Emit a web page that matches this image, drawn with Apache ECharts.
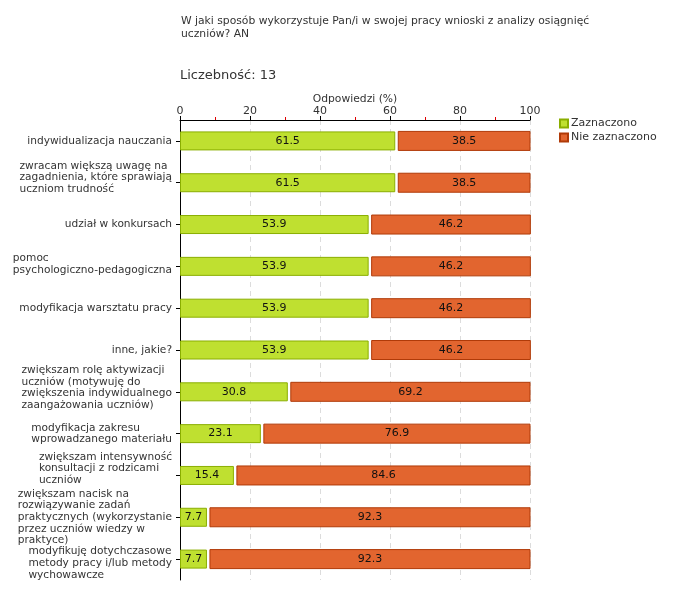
<!DOCTYPE html>
<html>
<head>
<meta charset="utf-8">
<script src="https://cdn.jsdelivr.net/npm/echarts@6/dist/echarts.min.js"></script>
<style>html,body{margin:0;padding:0;background:#fff;}#c{width:680px;height:600px;}</style>
</head>
<body>
<div id="c"></div>
<script>
const categories = [
  "indywidualizacja nauczania",
  "zwracam większą uwagę na\nzagadnienia, które sprawiają\nuczniom trudność",
  "udział w konkursach",
  "pomoc\npsychologiczno-pedagogiczna",
  "modyfikacja warsztatu pracy",
  "inne, jakie?",
  "zwiększam rolę aktywizacji\nuczniów (motywuję do\nzwiększenia indywidualnego\nzaangażowania uczniów)",
  "modyfikacja zakresu\nwprowadzanego materiału",
  "zwiększam intensywność\nkonsultacji z rodzicami\nuczniów",
  "zwiększam nacisk na\nrozwiązywanie zadań\npraktycznych (wykorzystanie\nprzez uczniów wiedzy w\npraktyce)",
  "modyfikuję dotychczasowe\nmetody pracy i/lub metody\nwychowawcze"
];
const zaznaczono = [61.5, 61.5, 53.9, 53.9, 53.9, 53.9, 30.8, 23.1, 15.4, 7.7, 7.7];
const nieZaznaczono = [38.5, 38.5, 46.2, 46.2, 46.2, 46.2, 69.2, 76.9, 84.6, 92.3, 92.3];
const seriesNames = ["Zaznaczono", "Nie zaznaczono"];
const xTicks = [0, 20, 40, 60, 80, 100];
const titleText = "W jaki sposób wykorzystuje Pan/i w swojej pracy wnioski z analizy osiągnięć\nuczniów? AN";
const countText = "Liczebność: 13";

// style only: vertical nudge (px) of each category label block, as in the reference
const labelNudge = [0, -5, 0, -2, 0, 0, -4, 0, -7, 0, 4];

const FONT = "DejaVu Sans";
const GREEN = '#bfe030', GREEN_B = '#8aae00';
const RED = '#e2652f', RED_B = '#b03a08';
const BAR_H = 19;
const LAB_FS = 10.6, LAB_LH = 11.7;

const rich = {a: {align: 'left', fontFamily: FONT, fontSize: LAB_FS, color: '#333', lineHeight: LAB_LH}};
labelNudge.forEach((s, i) => {
  rich['g' + i] = {align: 'left', fontFamily: FONT, fontSize: 1, lineHeight: Math.abs(s) * 2};
});

const chart = echarts.init(document.getElementById('c'), null, {renderer: 'canvas'});
chart.setOption({
  backgroundColor: '#fff',
  animation: false,
  textStyle: {fontFamily: FONT},
  title: [
    {text: titleText, left: 176, top: 10, padding: 5,
     textStyle: {fontFamily: FONT, fontSize: 10.75, fontWeight: 'normal', color: '#333', lineHeight: 13}},
    {text: countText, left: 175, top: 64, padding: 5,
     textStyle: {fontFamily: FONT, fontSize: 13, fontWeight: 'normal', color: '#333'}}
  ],
  legend: {
    orient: 'vertical', left: 554, top: 113, itemWidth: 8, itemHeight: 8, itemGap: 3,
    icon: 'rect',
    textStyle: {fontFamily: FONT, fontSize: 11, color: '#333', padding: [0,0,0,-2]},
    data: seriesNames
  },
  grid: {left: 180, right: 150, top: 120, bottom: 20, containLabel: false},
  xAxis: {
    type: 'value', position: 'top', min: xTicks[0], max: xTicks[xTicks.length - 1], interval: xTicks[1] - xTicks[0],
    name: 'Odpowiedzi (%)', nameLocation: 'middle', nameGap: 15, nameMoveOverlap: false,
    nameTextStyle: {fontFamily: FONT, fontSize: 10.75, color: '#333'},
    axisLine: {show: true, lineStyle: {color: '#000', width: 1}},
    axisTick: {show: true, length: 4, lineStyle: {color: '#000'}},
    minorTick: {show: true, splitNumber: 2, length: 3, lineStyle: {color: '#e00000'}},
    axisLabel: {fontFamily: FONT, fontSize: 11, color: '#333', margin: 3},
    splitLine: {show: true, lineStyle: {color: '#dcdcdc', type: [5, 4]}}
  },
  yAxis: {
    type: 'category', inverse: true, data: categories,
    axisLine: {show: true, lineStyle: {color: '#000'}},
    axisTick: {show: true, length: 4, alignWithLabel: true, lineStyle: {color: '#000'}},
    axisLabel: {
      interval: 0,
      fontFamily: FONT, fontSize: LAB_FS, color: '#333', margin: 8, lineHeight: LAB_LH,
      formatter: (v, i) => {
        const s = labelNudge[i] || 0;
        const body = '{a|' + v + '}';
        if (s < 0) return body + '\n{g' + i + '| }';
        if (s > 0) return '{g' + i + '| }\n' + body;
        return body;
      },
      rich: rich
    },
    splitLine: {show: false}
  },
  series: [
    {
      name: seriesNames[0], type: 'bar', barWidth: BAR_H, data: zaznaczono,
      itemStyle: {color: GREEN, borderColor: GREEN_B, borderWidth: 1},
      label: {show: true, position: 'inside', color: '#111', fontFamily: FONT, fontSize: 11}
    },
    {
      name: seriesNames[1], type: 'custom',
      data: nieZaznaczono.map((v, i) => [i, v]),
      encode: {x: 1, y: 0},
      itemStyle: {color: RED, borderColor: RED_B, borderWidth: 1},
      renderItem: (params, api) => {
        const idx = api.value(0);
        const val = api.value(1);
        const base = zaznaczono[idx];
        const p0 = api.coord([base, idx]);
        const p1 = api.coord([base + val, idx]);
        const x0 = p0[0] + 3;
        return {
          type: 'rect',
          shape: {x: x0, y: p0[1] - BAR_H / 2, width: p1[0] - x0, height: BAR_H},
          style: {fill: RED, stroke: RED_B, lineWidth: 1},
          textContent: {style: {text: String(val), fill: '#111', fontFamily: FONT, fontSize: 11}},
          textConfig: {position: 'inside'}
        };
      }
    }
  ]
});
</script>
</body>
</html>
